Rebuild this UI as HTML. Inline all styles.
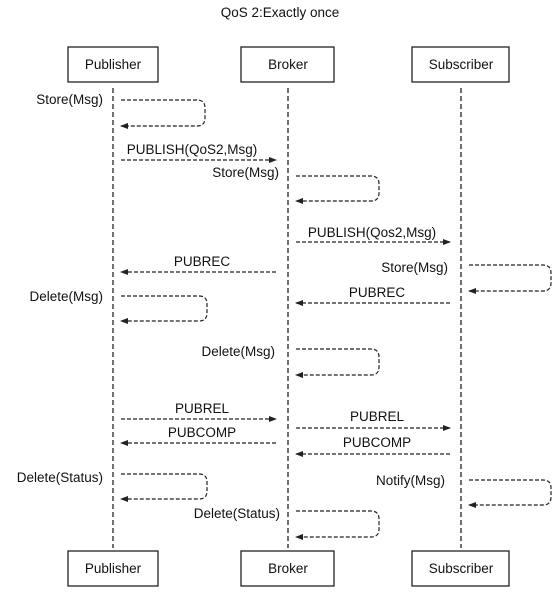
<!DOCTYPE html>
<html><head><meta charset="utf-8"><style>
html,body{margin:0;padding:0;background:#fff;}
svg{display:block;}
text{font-family:"Liberation Sans",sans-serif;font-size:13.5px;fill:#111;}
</style></head><body>
<svg width="559" height="598" viewBox="0 0 559 598" xmlns="http://www.w3.org/2000/svg">
<defs>
<marker id="a" markerWidth="8" markerHeight="6" refX="7" refY="3" orient="auto" markerUnits="userSpaceOnUse">
<path d="M0,0 L8,3 L0,6 Z" fill="#222"/></marker>
</defs>
<text x="280" y="17" text-anchor="middle">QoS 2:Exactly once</text>
<g fill="none" stroke="#222" stroke-width="1.3">
<rect x="68" y="47" width="90" height="35"/>
<rect x="241" y="47" width="93" height="35"/>
<rect x="412" y="47" width="97" height="35"/>
<rect x="68" y="551" width="90" height="35"/>
<rect x="241" y="551" width="93" height="35"/>
<rect x="412" y="551" width="97" height="35"/>
</g>
<g fill="none" stroke="#222" stroke-width="1.3" stroke-dasharray="5,3">
<line x1="113" y1="88" x2="113" y2="548"/>
<line x1="288" y1="88" x2="288" y2="548"/>
<line x1="461" y1="88" x2="461" y2="548"/>
</g>
<g fill="none" stroke="#222" stroke-width="1.2" stroke-dasharray="4,2" marker-end="url(#a)">
<path d="M121,100 H197 Q205,100 205,108 V118 Q205,126 197,126 H121"/>
<line x1="121" y1="160" x2="276" y2="160"/>
<path d="M296,176 H371 Q379,176 379,184 V193 Q379,201 371,201 H296"/>
<line x1="296" y1="242" x2="450" y2="242"/>
<line x1="276" y1="272" x2="121" y2="272"/>
<path d="M469,265 H543 Q551,265 551,273 V283 Q551,291 543,291 H469"/>
<path d="M121,296 H199 Q207,296 207,304 V313 Q207,321 199,321 H121"/>
<line x1="450" y1="303" x2="296" y2="303"/>
<path d="M296,349 H371 Q379,349 379,357 V367 Q379,375 371,375 H296"/>
<line x1="121" y1="419" x2="276" y2="419"/>
<line x1="296" y1="428" x2="450" y2="428"/>
<line x1="276" y1="443" x2="121" y2="443"/>
<line x1="450" y1="454" x2="296" y2="454"/>
<path d="M121,474 H199 Q207,474 207,482 V491 Q207,499 199,499 H121"/>
<path d="M469,480 H543 Q551,480 551,488 V497 Q551,505 543,505 H469"/>
<path d="M296,511 H371 Q379,511 379,519 V529 Q379,537 371,537 H296"/>
</g>
<text x="113" y="69" text-anchor="middle">Publisher</text>
<text x="288" y="69" text-anchor="middle">Broker</text>
<text x="461" y="69" text-anchor="middle">Subscriber</text>
<text x="113" y="573" text-anchor="middle">Publisher</text>
<text x="288" y="573" text-anchor="middle">Broker</text>
<text x="461" y="573" text-anchor="middle">Subscriber</text>
<text x="103" y="104" text-anchor="end">Store(Msg)</text>
<text x="192" y="154" text-anchor="middle">PUBLISH(QoS2,Msg)</text>
<text x="279" y="177" text-anchor="end">Store(Msg)</text>
<text x="372" y="237" text-anchor="middle">PUBLISH(Qos2,Msg)</text>
<text x="202" y="266" text-anchor="middle">PUBREC</text>
<text x="448" y="272" text-anchor="end">Store(Msg)</text>
<text x="103" y="301" text-anchor="end">Delete(Msg)</text>
<text x="377" y="297" text-anchor="middle">PUBREC</text>
<text x="275" y="356" text-anchor="end">Delete(Msg)</text>
<text x="202" y="413" text-anchor="middle">PUBREL</text>
<text x="377" y="421" text-anchor="middle">PUBREL</text>
<text x="202" y="437" text-anchor="middle">PUBCOMP</text>
<text x="377" y="447" text-anchor="middle">PUBCOMP</text>
<text x="103" y="482" text-anchor="end">Delete(Status)</text>
<text x="445" y="485" text-anchor="end">Notify(Msg)</text>
<text x="280" y="518" text-anchor="end">Delete(Status)</text>
</svg>
</body></html>
